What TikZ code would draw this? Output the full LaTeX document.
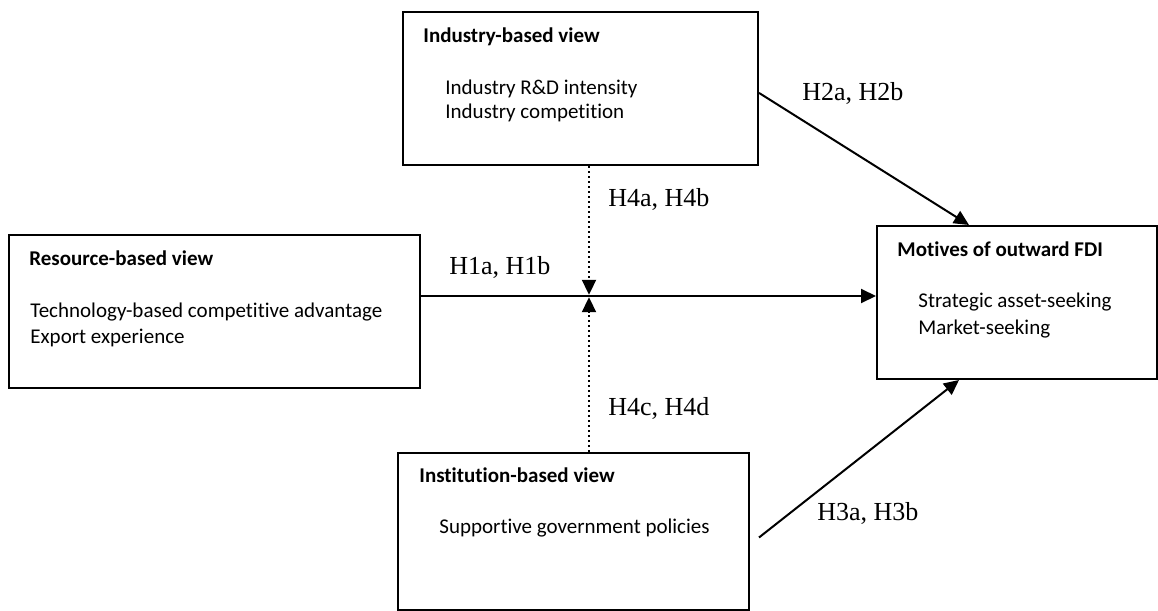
\documentclass[tikz,border=0pt]{standalone}
\usepackage{fontspec}
\setmainfont[Ligatures=NoCommon]{Carlito}
\newfontfamily\hypfont{Liberation Serif}
\usetikzlibrary{positioning,arrows.meta}

\begin{document}
\begin{tikzpicture}[
  x=0.5pt, y=-0.5pt,
  view/.style={rectangle, draw, line width=1pt, anchor=north west, inner sep=0pt},
  head/.style={anchor=base west, inner sep=0pt, font=\fontsize{10.5}{12}\selectfont\bfseries},
  item/.style={anchor=base west, inner sep=0pt, font=\fontsize{10.5}{12}\selectfont},
  hyp/.style={anchor=base west, inner sep=0pt, font=\fontsize{13}{15}\selectfont\hypfont},
  arrow/.style={-{Triangle[length=7.5pt,width=7pt]}, line width=1pt},
  modarrow/.style={-{Triangle[length=7.5pt,width=7pt]}, line width=1pt, dash pattern=on 1pt off 1.5pt}
]
\useasboundingbox (0,0) rectangle (1158,611);

% Industry-based view
\node[view, minimum width=177.5pt, minimum height=76.5pt] (industry) at (402,11) {};
\node[head] (industryhead) at (423,42) {Industry-based view};
\node[item] (industry1) at (445,94) {Industry R\&D intensity};
\node[item] (industry2) at (445,118) {Industry competition};

% Resource-based view
\node[view, minimum width=205.5pt, minimum height=76.5pt] (resource) at (8,234) {};
\node[head] (resourcehead) at (29,265) {Resource-based view};
\node[item] (resource1) at (30,317) {Technology-based competitive advantage};
\node[item] (resource2) at (30,343) {Export experience};

% Motives of outward FDI
\node[view, minimum width=140pt, minimum height=76.5pt] (motives) at (876,225) {};
\node[head] (motiveshead) at (897,256) {Motives of outward FDI};
\node[item] (motives1) at (918,307) {Strategic asset-seeking};
\node[item] (motives2) at (918,334) {Market-seeking};

% Institution-based view
\node[view, minimum width=175.5pt, minimum height=78.5pt] (institution) at (397,452) {};
\node[head] (institutionhead) at (419,482) {Institution-based view};
\node[item] (institution1) at (439,533) {Supportive government policies};

% moderation point
\coordinate (mod) at (589,296);

% direct effects
\draw[arrow] (resource.east |- mod) -- (motives.west |- mod);
\draw[arrow] ([yshift=-2.2pt]industry.east) -- ([xshift=-24pt]motives.north);
\draw[arrow] ([xshift=4.5pt,yshift=-3pt]institution.east) -- ([xshift=-29pt]motives.south);

% moderating effects
\draw[modarrow, shorten >=0.6pt] (mod |- industry.south) -- (mod);
\draw[modarrow, shorten >=0.6pt] (mod |- institution.north) -- (mod);

% hypothesis labels
\node[hyp] (h1) at (449,274) {H1a, H1b};
\node[hyp] (h2) at (802,100) {H2a, H2b};
\node[hyp] (h3) at (817,520) {H3a, H3b};
\node[hyp] (h4ab) at (608,206) {H4a, H4b};
\node[hyp] (h4cd) at (608,415) {H4c, H4d};

\end{tikzpicture}
\end{document}
